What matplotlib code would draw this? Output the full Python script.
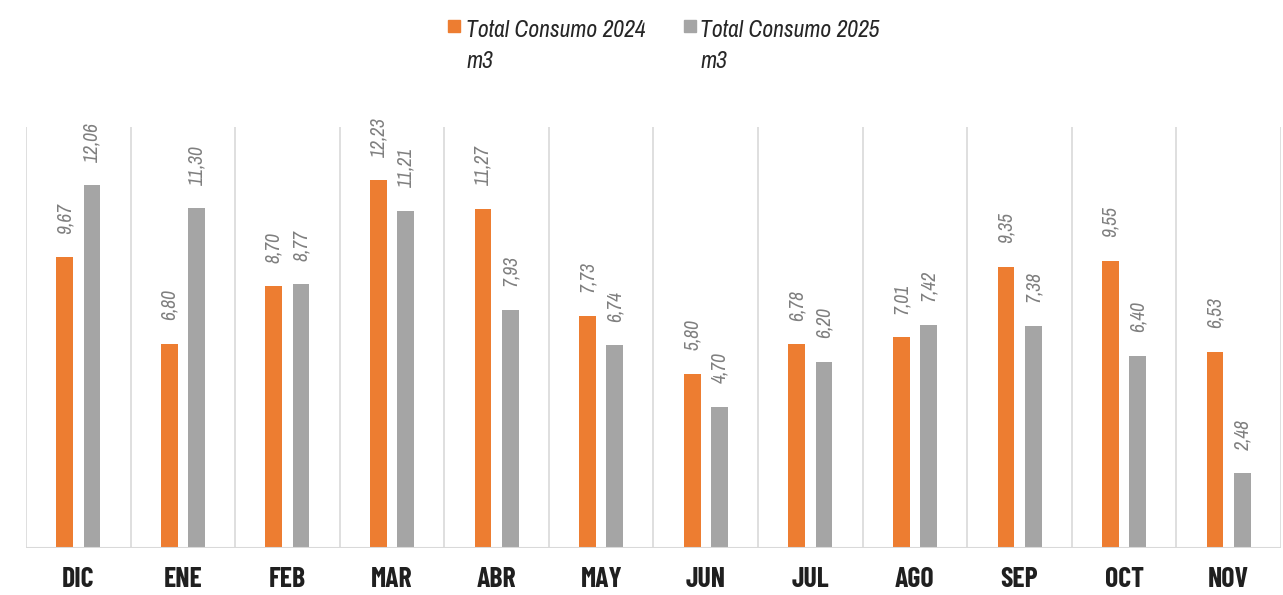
import matplotlib
matplotlib.use("Agg")
import matplotlib.pyplot as plt
import numpy as np
from matplotlib.patches import Rectangle

months = ["DIC", "ENE", "FEB", "MAR", "ABR", "MAY", "JUN", "JUL", "AGO", "SEP", "OCT", "NOV"]
consumo_2024 = [9.67, 6.80, 8.70, 12.23, 11.27, 7.73, 5.80, 6.78, 7.01, 9.35, 9.55, 6.53]
consumo_2025 = [12.06, 11.30, 8.77, 11.21, 7.93, 6.74, 4.70, 6.20, 7.42, 7.38, 6.40, 2.48]
series_names = ["Total Consumo 2024\nm3", "Total Consumo 2025\nm3"]

narrow = ["Archivo Narrow", "Liberation Sans", "DejaVu Sans"]
cond_bold = ["Barlow Condensed", "Archivo Narrow", "Liberation Sans", "DejaVu Sans"]

c24 = "#ED7D31"
c25 = "#A5A5A5"

W, H = 1283, 595
fig = plt.figure(figsize=(W / 100, H / 100), dpi=100)
ax = fig.add_axes([26 / W, 1 - 548 / H, (1281 - 26) / W, (548 - 127) / H])

x = np.arange(len(months))
w = 0.16
off = 0.13
b1 = ax.bar(x - off, consumo_2024, w, color=c24, zorder=3)
b2 = ax.bar(x + off, consumo_2025, w, color=c25, zorder=3)

for bars, vals in ((b1, consumo_2024), (b2, consumo_2025)):
    for rect, v in zip(bars, vals):
        ax.annotate(f"{v:.2f}".replace(".", ","),
                    (rect.get_x() + rect.get_width() / 2, rect.get_height()),
                    xytext=(0, 17), textcoords="offset points",
                    rotation=90, ha="center", va="bottom",
                    fontsize=14, style="italic", color="#7F7F7F",
                    family=narrow, annotation_clip=False)

ax.set_xlim(-0.5, len(months) - 0.5)
ax.set_ylim(0, 14)
for b in np.arange(-0.5, len(months) + 0.5, 1):
    ax.axvline(b, color="#D9D9D9", lw=1.2, zorder=1)
for s in ax.spines.values():
    s.set_visible(False)
ax.axhline(0, color="#D9D9D9", lw=1.5, zorder=4)
ax.set_yticks([])
ax.set_xticks(x)
ax.set_xticklabels(months, fontsize=20, fontweight="bold", family=cond_bold, color="#1F1F1F")
ax.tick_params(axis="x", length=0, pad=14)

# legend (manual, handle aligned with the first text line)
leg_sq_x = [448, 684]
leg_tx_x = [466, 700]
for name, col, sx, tx in zip(series_names, [c24, c25], leg_sq_x, leg_tx_x):
    fig.patches.append(Rectangle((sx / W, 1 - 32 / H), 12 / W, 12 / H,
                                 transform=fig.transFigure, color=col))
    for k, line in enumerate(name.split("\n")):
        fig.text(tx / W, 1 - (37 + 31 * k) / H, line, ha="left", va="baseline",
                 fontsize=17, style="italic", family=narrow, color="#262626")

fig.savefig("out.png", dpi=100)
